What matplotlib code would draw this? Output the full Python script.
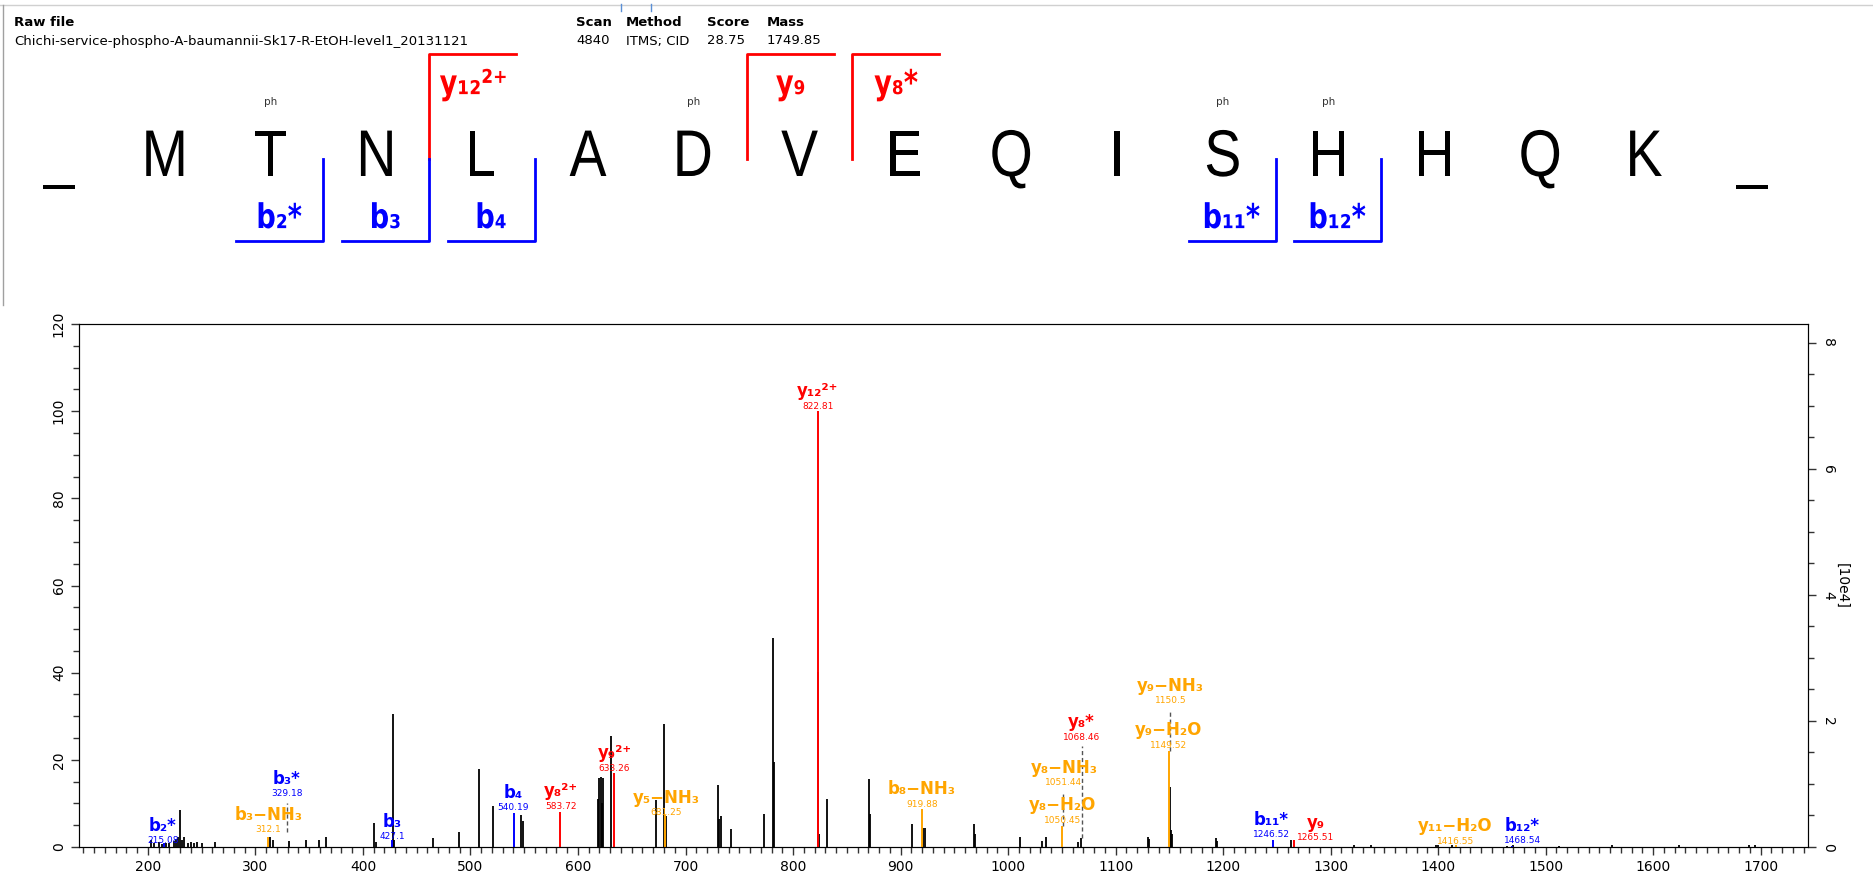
import matplotlib

matplotlib.use("Agg")
import matplotlib.pyplot as plt
import matplotlib.transforms as mtransforms
from matplotlib.font_manager import FontProperties
from matplotlib.patches import PathPatch
from matplotlib.textpath import TextPath
from matplotlib.ticker import MultipleLocator

RED = "#ff0000"
BLUE = "#0000ff"
ORANGE = "#ffa500"

# ---- header -------------------------------------------------------------
RAW_FILE = "Chichi-service-phospho-A-baumannii-Sk17-R-EtOH-level1_20131121"
HEADER_COLS = ["Scan", "Method", "Score", "Mass"]
HEADER_VALS = ["4840", "ITMS; CID", "28.75", "1749.85"]

# ---- sequence panel -----------------------------------------------------
SEQUENCE = ["_", "M", "T", "N", "L", "A", "D", "V", "E", "Q", "I", "S", "H", "H", "Q", "K", "_"]
PHOSPHO_SITES = [2, 6, 11, 12]
B_BREAKS = [2, 3, 4, 11, 12]
B_NAMES = ["b₂*", "b₃", "b₄", "b₁₁*", "b₁₂*"]
Y_BREAKS = [3, 6, 7]
Y_NAMES = ["y₁₂²⁺", "y₉", "y₈*"]

# ---- spectrum: unassigned peaks (m/z, relative intensity %) ------------
PEAK_MZ = [203, 206, 210, 213, 217, 220, 224, 226, 228, 230, 232, 234, 237, 240,
           243, 246, 250, 262, 314, 316, 331, 347, 359, 366, 410, 412, 428, 429,
           465, 489, 507.5, 520.5, 547.3, 548.5, 619, 620, 621, 622, 623, 631,
           673, 680, 681.5, 730, 731.5, 733, 742, 773, 781, 782.5, 823.5, 824.5,
           832, 871, 872, 911, 920.5, 923, 968, 969, 1011, 1032, 1035, 1065,
           1068, 1130.5, 1131.5, 1150.5, 1151.5, 1152.5, 1193, 1194, 1263, 1322,
           1338, 1398, 1400, 1413, 1464, 1470, 1512, 1562, 1624, 1689, 1695]
PEAK_INT = [1.5, 0.8, 1.2, 0.7, 1.0, 0.8, 1.3, 1.8, 2.2, 8.5, 1.5, 2.4, 0.8, 1.2,
            1.0, 1.2, 0.8, 1.2, 2.4, 1.5, 1.3, 1.6, 1.5, 2.2, 5.6, 1.2, 30.4, 1.5,
            2.0, 3.5, 17.8, 9.3, 7.4, 6.0, 11.0, 15.8, 16.0, 10.2, 15.8, 25.5,
            10.8, 28.2, 7.0, 14.2, 6.5, 7.2, 4.2, 7.6, 48.0, 19.5, 40.2, 3.0,
            11.0, 15.6, 7.6, 5.2, 4.4, 4.4, 5.2, 3.0, 2.2, 1.4, 2.3, 1.2,
            2.0, 2.3, 1.8, 13.8, 4.0, 3.0, 2.0, 1.4, 1.7, 0.5,
            0.5, 0.4, 0.5, 0.5, 0.3, 0.4, 0.3, 0.4, 0.4, 0.5, 0.5]

# ---- spectrum: assigned fragment ions -----------------------------------
ION_NAMES = ["b₂*", "b₃−NH₃", "b₃*", "b₃", "b₄", "y₈²⁺", "y₉²⁺", "y₅−NH₃",
             "y₁₂²⁺", "b₈−NH₃", "y₈−H₂O", "y₈−NH₃", "y₈*", "y₉−H₂O", "y₉−NH₃",
             "b₁₁*", "y₉", "y₁₁−H₂O", "b₁₂*"]
ION_MZ = [215.08, 312.1, 329.18, 427.1, 540.19, 583.72, 633.26, 681.25, 822.81,
          919.88, 1050.45, 1051.44, 1068.46, 1149.52, 1150.5, 1246.52, 1265.51,
          1416.55, 1468.54]
ION_MZ_TEXT = ["215.08", "312.1", "329.18", "427.1", "540.19", "583.72", "633.26",
               "681.25", "822.81", "919.88", "1050.45", "1051.44", "1068.46",
               "1149.52", "1150.5", "1246.52", "1265.51", "1416.55", "1468.54"]
ION_INT = [1.0, 2.4, 3.4, 1.5, 7.7, 8.1, 17.0, 7.4, 100.0, 8.7, 4.9, 4.9, 2.0,
           22.1, 22.1, 1.5, 1.5, 0.4, 0.3]
ION_TYPE = ["b", "loss", "b", "b", "b", "y", "y", "loss", "y", "loss", "loss",
            "loss", "y", "loss", "loss", "b", "y", "loss", "b"]

# layout of the ion labels: (label x in m/z, label y in %, dashed leader)
LABEL_LAYOUT = {
    "b₂*": (214, 4.9, False), "b₃−NH₃": (312, 7.4, False), "b₃*": (329, 15.7, True),
    "b₃": (427, 5.8, False), "b₄": (540, 12.5, False), "y₈²⁺": (584, 12.8, False),
    "y₉²⁺": (634, 21.6, False), "y₅−NH₃": (682, 11.3, False), "y₁₂²⁺": (823, 104.6, False),
    "b₈−NH₃": (920, 13.3, False), "y₈−H₂O": (1051, 9.6, False), "y₈−NH₃": (1052, 18.2, True),
    "y₈*": (1068, 28.6, True), "y₉−H₂O": (1149, 26.8, False), "y₉−NH₃": (1151, 37.0, True),
    "b₁₁*": (1245, 6.3, False), "y₉": (1286, 5.6, False), "y₁₁−H₂O": (1416, 4.7, False),
    "b₁₂*": (1478, 4.9, False),
}
COLORS = {"b": BLUE, "y": RED, "loss": ORANGE}

W, H = 1874, 888


def draw_narrow(ax, x, y, s, size, sx, family, weight, color):
    # text drawn as a path so it can be squeezed horizontally
    tp = TextPath((0, 0), s, size=1, prop=FontProperties(family=family, weight=weight))
    ext = tp.get_extents()
    cx = (ext.x0 + ext.x1) / 2
    tr = mtransforms.Affine2D().translate(-cx, 0).scale(size * sx, -size).translate(x, y)
    ax.add_patch(PathPatch(tp, transform=tr + ax.transData, facecolor=color, lw=0))


fig = plt.figure(figsize=(W / 100, H / 100), dpi=100)

# overlay in pixel coordinates for header and sequence
top = fig.add_axes([0, 0, 1, 1])
top.set_xlim(0, W)
top.set_ylim(H, 0)
top.axis("off")

top.plot([0, W], [5, 5], color="#d0d0d0", lw=1)
top.plot([3, 3], [5, 305], color="#a0a0a0", lw=1)
top.plot([621, 621], [4, 11], color="#5b8fd6", lw=1)
top.plot([651, 651], [4, 11], color="#5b8fd6", lw=1)

hfont = dict(family="DejaVu Sans", fontsize=9.5, va="center", ha="left")
top.text(14, 22, "Raw file", fontweight="bold", **hfont)
top.text(14, 41, RAW_FILE, **hfont)
for x, col, val in zip([576, 626, 707, 767], HEADER_COLS, HEADER_VALS):
    top.text(x, 22, col, fontweight="bold", **hfont)
    top.text(x, 41, val, **hfont)

x0, step = 59, 105.8
for i, aa in enumerate(SEQUENCE):
    draw_narrow(top, x0 + i * step, 176, aa, 66, 0.84, "Liberation Sans", "normal", "black")
for i in PHOSPHO_SITES:
    top.text(x0 + i * step, 102, "ph", fontsize=7.5, family="DejaVu Sans",
             ha="center", va="center", color="#333333")

arm = 87
for i, name in zip(Y_BREAKS, Y_NAMES):
    xb = x0 + (i + 0.5) * step
    top.plot([xb, xb, xb + arm], [159, 54, 54], color=RED, lw=2)
    draw_narrow(top, xb + arm / 2, 94, name, 34, 0.8, "DejaVu Sans", "bold", RED)
for i, name in zip(B_BREAKS, B_NAMES):
    xb = x0 + (i + 0.5) * step
    top.plot([xb, xb, xb - arm], [159, 241, 241], color=BLUE, lw=2)
    draw_narrow(top, xb - arm / 2, 228, name, 34, 0.8, "DejaVu Sans", "bold", BLUE)

# spectrum
ax = fig.add_axes([0.0422, 0.0462, 0.9226, 0.5889])
ax.set_xlim(136, 1744)
ax.set_ylim(0, 120)
ax.vlines(PEAK_MZ, 0, PEAK_INT, color="black", lw=1.3, zorder=2)

for name, mz, txt, inten, kind in zip(ION_NAMES, ION_MZ, ION_MZ_TEXT, ION_INT, ION_TYPE):
    color = COLORS[kind]
    lx, ly, dashed = LABEL_LAYOUT[name]
    if dashed:
        ax.plot([mz, mz], [inten, ly - 5.5], color="#555555", lw=1,
                ls=(0, (3, 2)), zorder=2)
    else:
        ax.vlines(mz, 0, inten, color=color, lw=1.4, zorder=3)
    ax.text(lx, ly, name, color=color, fontsize=12, fontweight="bold",
            family="DejaVu Sans", ha="center", va="center", zorder=4)
    ax.text(lx, ly - 3.5, txt, color=color, fontsize=6.5, family="DejaVu Sans",
            ha="center", va="center", zorder=4)

ax.xaxis.set_major_locator(MultipleLocator(100))
ax.xaxis.set_minor_locator(MultipleLocator(10))
ax.yaxis.set_major_locator(MultipleLocator(20))
ax.yaxis.set_minor_locator(MultipleLocator(5))
ax.tick_params(axis="both", which="major", length=6, width=1, labelsize=10,
               direction="out", color="#333333")
ax.tick_params(axis="both", which="minor", length=4, width=1, direction="out",
               color="#333333")
for lab in ax.get_yticklabels():
    lab.set_rotation(90)
    lab.set_va("center")
for sp in ax.spines.values():
    sp.set_color("#333333")

ax2 = ax.twinx()
ax2.set_ylim(0, 8.3)
ax2.yaxis.set_major_locator(MultipleLocator(2))
ax2.yaxis.set_minor_locator(MultipleLocator(0.5))
ax2.tick_params(axis="y", which="major", length=6, width=1, labelsize=10, color="#333333")
ax2.tick_params(axis="y", which="minor", length=4, width=1, color="#333333")
for lab in ax2.get_yticklabels():
    lab.set_rotation(-90)
    lab.set_va("center")
ax2.set_ylabel("[10e4]", rotation=-90, fontsize=10, labelpad=0, va="bottom")

fig.savefig("out.png", dpi=100)
